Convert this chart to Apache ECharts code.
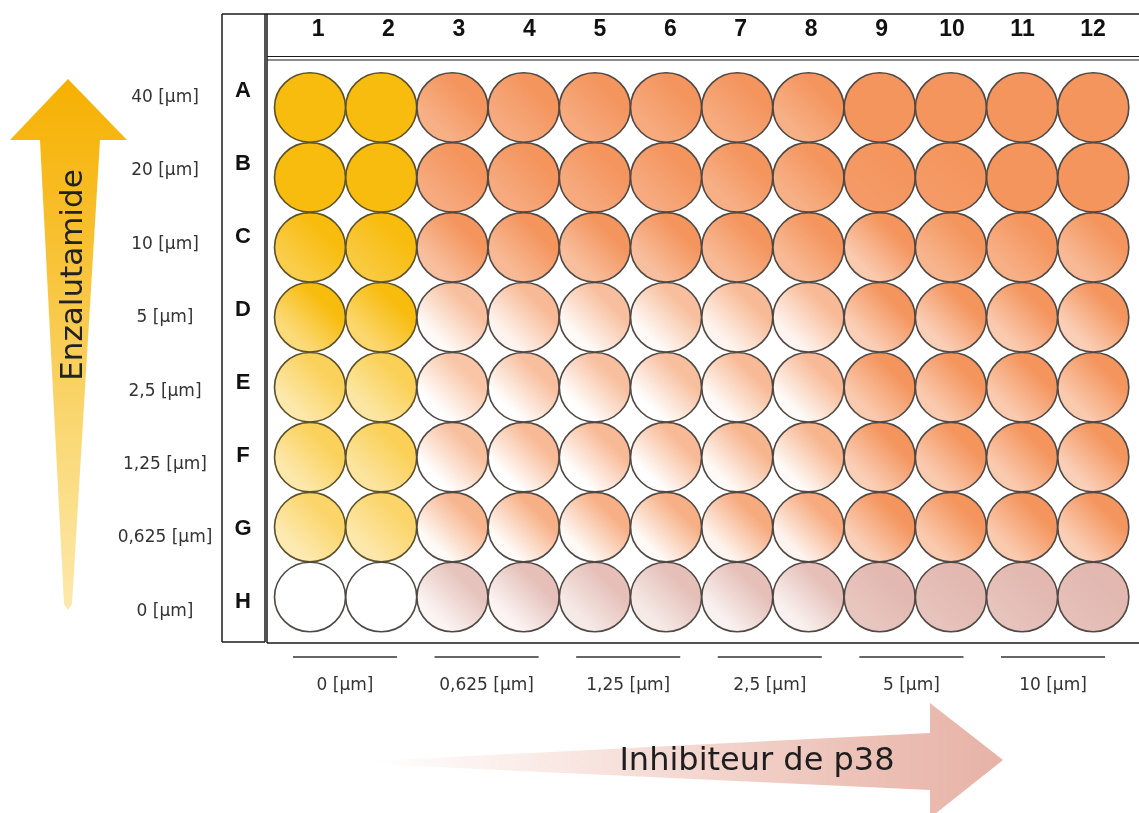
<!DOCTYPE html>
<html><head><meta charset="utf-8">
<script src="https://cdn.jsdelivr.net/npm/echarts@6/dist/echarts.min.js"></script>
<style>html,body{margin:0;padding:0;background:#fff}#c{width:1139px;height:813px}</style>
</head><body><div id="c"></div>
<script>
// ---- data ----
const columns = ['1','2','3','4','5','6','7','8','9','10','11','12'];
const rows = ['A','B','C','D','E','F','G','H'];
const enzaDoses = ['40 [µm]','20 [µm]','10 [µm]','5 [µm]','2,5 [µm]','1,25 [µm]','0,625 [µm]','0 [µm]'];
const p38Doses = ['0 [µm]','0,625 [µm]','1,25 [µm]','2,5 [µm]','5 [µm]','10 [µm]'];
// staining strength at the upper-right side of each well (0 = none, 1 = full), rows A..H
const wellTop = [
  [1,1, 1,1,1,1,1,1, 1,1,1,1],
  [1,1, 1,1,1,1,1,1, 1,1,1,1],
  [1,1, 1,1,1,1,1,1, 1,1,1,1],
  [1,1, 0.6,0.65,0.6,0.6,0.65,0.65, 1,1,1,1],
  [0.68,0.7, 0.55,0.6,0.6,0.6,0.65,0.65, 1,1,1,1],
  [0.68,0.7, 0.6,0.65,0.65,0.65,0.7,0.7, 1,1,1,1],
  [0.62,0.62, 0.7,0.75,0.75,0.75,0.8,0.8, 1,1,1,1],
  [0,0, 0.85,0.9,0.9,0.9,0.9,0.9, 1,1,1,1]
];
// staining strength at the lower-left side of each well, rows A..H
const wellBottom = [
  [1,1, 0.75,0.8,0.8,0.8,0.8,0.75, 1,1,1,1],
  [1,1, 0.8,0.8,0.8,0.8,0.75,0.75, 0.95,0.95,1,1],
  [0.75,0.8, 0.6,0.65,0.6,0.6,0.65,0.65, 0.5,0.7,0.75,0.65],
  [0.55,0.6, 0.05,0.1,0.05,0.05,0.1,0.1, 0.45,0.45,0.5,0.45],
  [0.35,0.38, 0,0,0,0,0.05,0.05, 0.5,0.5,0.5,0.5],
  [0.35,0.4, 0,0,0,0,0.05,0.05, 0.45,0.5,0.5,0.45],
  [0.32,0.35, 0.05,0.05,0.05,0.05,0.1,0.1, 0.45,0.5,0.5,0.45],
  [0,0, 0.15,0.15,0.3,0.3,0.2,0.2, 0.8,0.85,0.85,0.9]
];

// ---- chart ----
const chart = echarts.init(document.getElementById('c'), null, {renderer:'canvas'});
const hues = {yellow:[248,188,14], orange:[244,149,94], pink:[226,184,176]};
function mix(rgb, s){ return 'rgb(' + rgb.map(v => Math.round(255 - (255 - v) * s)).join(',') + ')'; }

const wellData = [];
rows.forEach((r, ri) => columns.forEach((c, ci) => {
  const isYellow = ci < 2;
  const hue = isYellow ? hues.yellow : (ri === 7 ? hues.pink : hues.orange);
  const t = wellTop[ri][ci], b = wellBottom[ri][ci];
  wellData.push({
    value: [ci, ri],
    itemStyle: {
      borderColor: (isYellow && ri < 7) ? '#5c5128' : '#4f4845',
      color: {type:'linear', x:0, y:1, x2:1, y2:0, colorStops:[
        {offset:0, color:mix(hue,b)}, {offset:0.25, color:mix(hue,b)},
        {offset:0.7, color:mix(hue,t)}, {offset:1, color:mix(hue,t)}]}}
  });
}));

const lbl = {fontFamily:'DejaVu Sans', fontSize:17, color:'#333'};
const hidden = {show:false};
function ln(x1,y1,x2,y2,w){ return {type:'line', silent:true, shape:{x1,y1,x2,y2}, style:{stroke:'#1a1a1a', lineWidth:w||1.5}}; }

chart.setOption({
  animation:false,
  grid:[
    {left:274.4, top:72.5, width:854.5, height:559.5},
    {left:282.8, top:57, width:845.4, height:10},
    {left:258, top:54.5, width:5, height:584},
    {left:205, top:61, width:5, height:587},
    {left:274.2, top:640, width:849.6, height:17}
  ],
  xAxis:[
    {gridIndex:0, type:'category', data:columns, show:false},
    {gridIndex:1, type:'category', data:columns, position:'top', axisLine:hidden, axisTick:hidden,
     axisLabel:{interval:0, margin:27, verticalAlign:'middle', fontFamily:'Liberation Sans', fontWeight:'bold', fontSize:23, color:'#111'}},
    {gridIndex:4, type:'category', data:p38Doses, position:'bottom', axisLine:hidden, axisTick:hidden,
     axisLabel:Object.assign({interval:0, margin:29, verticalAlign:'middle'}, lbl)},
    {gridIndex:2, type:'value', show:false},
    {gridIndex:3, type:'value', show:false}
  ],
  yAxis:[
    {gridIndex:0, type:'category', data:rows, inverse:true, show:false},
    {gridIndex:2, type:'category', data:rows, inverse:true, axisLine:hidden, axisTick:hidden,
     axisLabel:{interval:0, align:'center', margin:15, fontFamily:'Liberation Sans', fontWeight:'bold', fontSize:22, color:'#111'}},
    {gridIndex:3, type:'category', data:enzaDoses, inverse:true, axisLine:hidden, axisTick:hidden,
     axisLabel:Object.assign({interval:0, align:'center', margin:40}, lbl)},
    {gridIndex:1, type:'value', show:false},
    {gridIndex:4, type:'value', min:0, max:1, show:false}
  ],
  series:[
    {type:'scatter', xAxisIndex:0, yAxisIndex:0, symbol:'circle', symbolSize:[71,69.5], silent:true,
     itemStyle:{borderWidth:1.6, opacity:1}, data:wellData},
    {type:'custom', xAxisIndex:2, yAxisIndex:4, silent:true,
     data:p38Doses.map((d,i) => [i, 0]),
     renderItem:function(params, api){
       const p = api.coord([api.value(0), 0]);
       const w = api.size([1, 0])[0] * 0.735;
       return {type:'line', shape:{x1:p[0]-w/2, y1:p[1], x2:p[0]+w/2, y2:p[1]}, style:{stroke:'#333', lineWidth:1.5}};
     }}
  ],
  graphic:[
    // yellow arrow
    {type:'polygon', silent:true, shape:{points:[[68,79],[127,140],[100,140],[72,604],[68,610],[64,604],[40,140],[10,140]]},
     style:{fill:new echarts.graphic.LinearGradient(0,0,0,1,[
       {offset:0,color:'#F6B000'},{offset:0.3,color:'#F8C030'},{offset:0.7,color:'#FADA7A'},{offset:1,color:'#FCE9AC'}])}},
    {type:'text', silent:true, x:74, y:275, rotation:Math.PI/2,
     style:{text:'Enzalutamide', font:'31px "DejaVu Sans"', fill:'#222', align:'center', verticalAlign:'middle'}},
    // pink arrow
    {type:'polygon', silent:true, shape:{points:[[370,761],[930,733],[930,703],[1003,760],[930,818],[930,790],[370,764]]},
     style:{fill:new echarts.graphic.LinearGradient(0,0,1,0,[
       {offset:0,color:'#FFFFFF'},{offset:0.35,color:'#F8E4DF'},{offset:0.75,color:'#EDC3B9'},{offset:1,color:'#E7B2A7'}])}},
    {type:'text', silent:true, x:757, y:762,
     style:{text:'Inhibiteur de p38', font:'32px "DejaVu Sans"', fill:'#1e1e1e', align:'center', verticalAlign:'middle'}},
    // plate frame
    ln(222,14,1139,14),
    ln(222,14,222,642),
    ln(222,642,265,642),
    ln(265,14,265,642),
    ln(267,14,267,643),
    ln(267,643,1139,643),
    ln(267,56.5,1139,56.5,1.2),
    ln(267,60,1139,60,1.2)
  ]
});
</script></body></html>
